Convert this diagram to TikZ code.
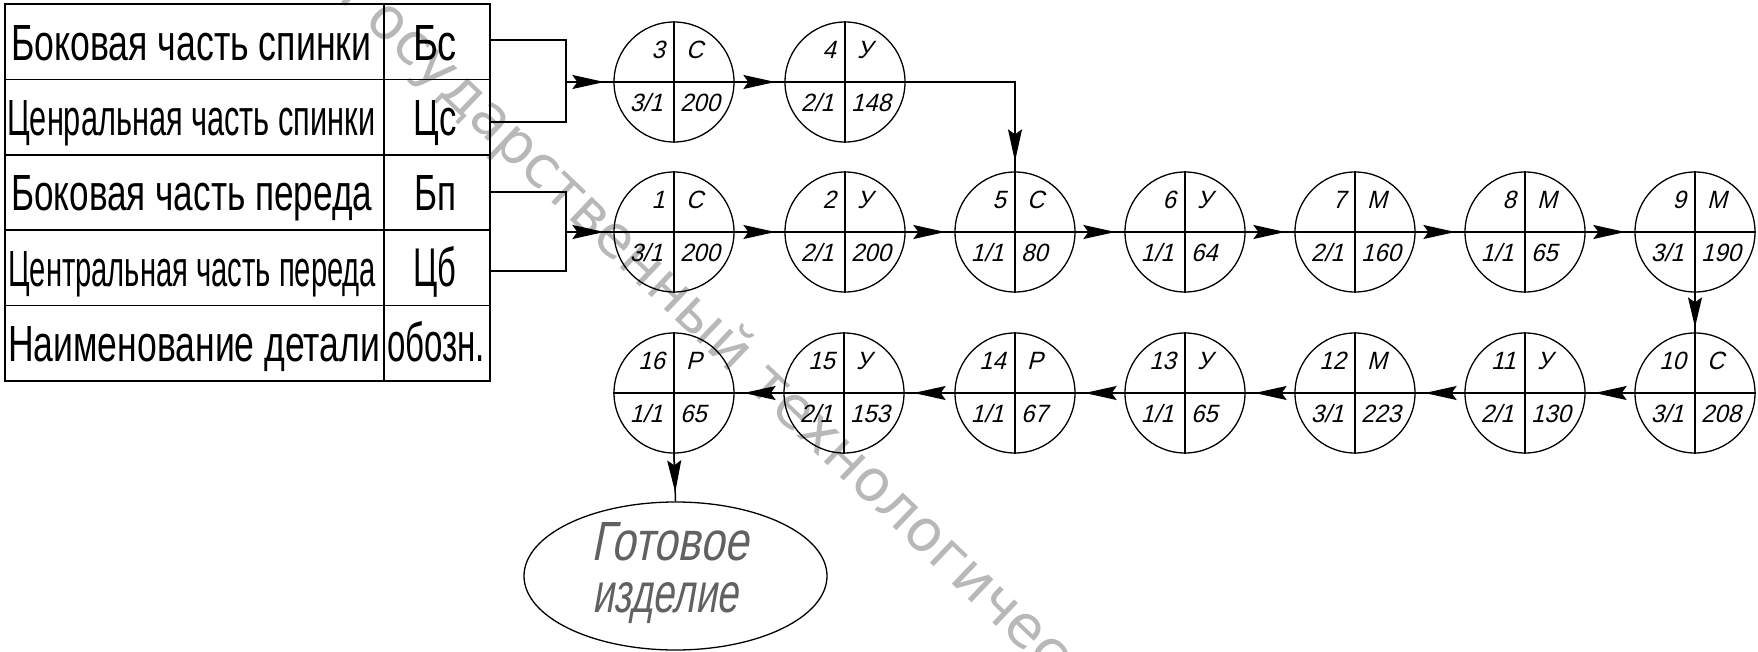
\documentclass[tikz,border=0pt]{standalone}
\usepackage{fontspec}
\usetikzlibrary{arrows.meta,shapes.geometric,calc}
\newfontfamily\gostfont{Liberation Sans}
\newfontfamily\gostit[FakeStretch=0.95,FakeSlant=0.25]{Liberation Sans}
\newfontfamily\gostbig[FakeSlant=0.25]{Liberation Sans}
\newfontfamily\wmfont{DejaVu Sans}
\newcommand\fitbox[3]{\resizebox{#1}{#2}{#3}}
\tikzset{
  ln/.style={line width=1.5pt, draw=black},
  arr/.style={line width=1.5pt, draw=black, -{Stealth[length=32pt,width=14pt,inset=5pt]}, shorten >=9pt},
  opc/.style={circle, draw, line width=1.3pt, minimum size=120pt, inner sep=0pt},
  cell/.style={rectangle, draw, line width=1.5pt, inner sep=0pt, minimum height=75.4pt},
  ctext/.style={inner sep=0pt, font=\gostit\fontsize{25}{25}\selectfont},
  ttext/.style={inner sep=0pt, font=\gostfont\fontsize{40}{40}\selectfont},
  etext/.style={inner sep=0pt, anchor=base west, text=black!62, font=\gostbig\fontsize{40}{40}\selectfont},
  wmark/.style={inner sep=0pt, anchor=base, rotate=-43.6, text=black!28, font=\wmfont\fontsize{58}{58}\selectfont}
}
\newcommand\opn[7]{%
  \node[opc] (#1) at (#2,#3) {};
  \draw[line width=1.3pt] (#1.north) -- (#1.south) (#1.west) -- (#1.east);
  \node[ctext, anchor=east] (#1a) at ($(#1)+(-9,-32)$) {#4};
  \node[ctext, anchor=west] (#1b) at ($(#1)+(12,-32)$) {#5};
  \node[ctext, anchor=east] (#1c) at ($(#1)+(-11,21)$) {#6};
  \node[ctext, anchor=west] (#1d) at ($(#1)+(6,21)$) {#7};
}
\begin{document}
\begin{tikzpicture}[x=1pt,y=-1pt]
\fill[white] (0,0) rectangle (1758,652);
\useasboundingbox (0,0) rectangle (1758,652);
% watermark
\begin{scope}
\clip (0,0) rectangle (1758,652);
\node[wmark] (wm) at (732,374) {\llap{Государственный}\rlap{\ технологический}};
\end{scope}
% table
\foreach \i/\y in {1/41.7,2/117.1,3/192.5,4/267.9,5/343.3}{
  \node[cell, minimum width=379pt] (n\i) at (194.5,\y) {};
  \node[cell, minimum width=106pt] (k\i) at (437,\y) {};
}
\node[ttext, anchor=base west] (t1) at (11,60.2) {\fitbox{360pt}{35pt}{Боковая часть спинки}};
\node[ttext, anchor=base west] (t2) at (7,135.6) {\fitbox{368pt}{35pt}{Ценральная часть спинки}};
\node[ttext, anchor=base west] (t3) at (11,211) {\fitbox{361pt}{35pt}{Боковая часть переда}};
\node[ttext, anchor=base west] (t4) at (8,286.4) {\fitbox{368pt}{35pt}{Центральная часть переда}};
\node[ttext, anchor=base west] (t5) at (8,361.8) {\fitbox{372pt}{35pt}{Наименование детали}};
\node[ttext, anchor=base] (s1) at (435,60.2) {\fitbox{44pt}{35pt}{Бс}};
\node[ttext, anchor=base] (s2) at (435,135.6) {\fitbox{43pt}{35pt}{Цс}};
\node[ttext, anchor=base] (s3) at (435,211) {\fitbox{42pt}{35pt}{Бп}};
\node[ttext, anchor=base] (s4) at (435,286.4) {\fitbox{43pt}{40pt}{Цб}};
\node[ttext, anchor=base] (s5) at (436,361.8) {\fitbox{98pt}{40pt}{обозн.}};
% operations
\opn{c3}{674}{82}{3}{С}{3/1}{200}
\opn{c4}{845}{82}{4}{У}{2/1}{148}
\opn{c1}{674}{232}{1}{С}{3/1}{200}
\opn{c2}{845}{232}{2}{У}{2/1}{200}
\opn{c5}{1015}{232}{5}{С}{1/1}{80}
\opn{c6}{1185}{232}{6}{У}{1/1}{64}
\opn{c7}{1355}{232}{7}{М}{2/1}{160}
\opn{c8}{1525}{232}{8}{М}{1/1}{65}
\opn{c9}{1695}{232}{9}{М}{3/1}{190}
\opn{c16}{674}{393}{16}{Р}{1/1}{65}
\opn{c15}{844}{393}{15}{У}{2/1}{153}
\opn{c14}{1015}{393}{14}{Р}{1/1}{67}
\opn{c13}{1185}{393}{13}{У}{1/1}{65}
\opn{c12}{1355}{393}{12}{М}{3/1}{223}
\opn{c11}{1525}{393}{11}{У}{2/1}{130}
\opn{c10}{1695}{393}{10}{С}{3/1}{208}
% final product
\node[ellipse, draw, line width=1.3pt, minimum width=303pt, minimum height=148pt, inner sep=0pt] (fin) at (675.5,576) {};
\node[etext] (f1) at (591,560) {\fitbox{157pt}{38pt}{Готовое}};
\node[etext] (f2) at (592,612) {\fitbox{146pt}{30pt}{изделие}};
% brackets
\coordinate (ja) at (566,40);
\coordinate (jb) at (566,122);
\coordinate (jm) at (566,82);
\coordinate (jc) at (566,192);
\coordinate (jd) at (566,271);
\coordinate (jn) at (566,232);
\draw[ln] (k1.east |- ja) -- (ja) -- (jb) -- (k2.east |- jb);
\draw[ln] (k3.east |- jc) -- (jc) -- (jd) -- (k4.east |- jd);
\draw[ln] (jm) -- (c3.west); \draw[arr] (jm) -- (c3.west);
\draw[ln] (jn) -- (c1.west); \draw[arr] (jn) -- (c1.west);
% flow
\foreach \a/\b in {c3/c4,c1/c2,c2/c5,c5/c6,c6/c7,c7/c8,c8/c9}{
  \draw[ln] (\a.east) -- (\b.west); \draw[arr] (\a.east) -- (\b.west);
}
\foreach \a/\b in {c10/c11,c11/c12,c12/c13,c13/c14,c14/c15,c15/c16}{
  \draw[ln] (\a.west) -- (\b.east); \draw[arr] (\a.west) -- (\b.east);
}
\draw[ln] (c4.east) -| (c5.north); \draw[arr, shorten >=10pt] (c4.east) -| (c5.north);
\draw[ln] (c9.south) -- (c10.north); \draw[arr, shorten >=5pt, -{Stealth[length=30pt,width=14pt,inset=5pt]}] (c9.south) -- (c10.north);
\draw[ln] (c16.south) -- (fin.north); \draw[arr] (c16.south) -- (fin.north);
\end{tikzpicture}
\end{document}
